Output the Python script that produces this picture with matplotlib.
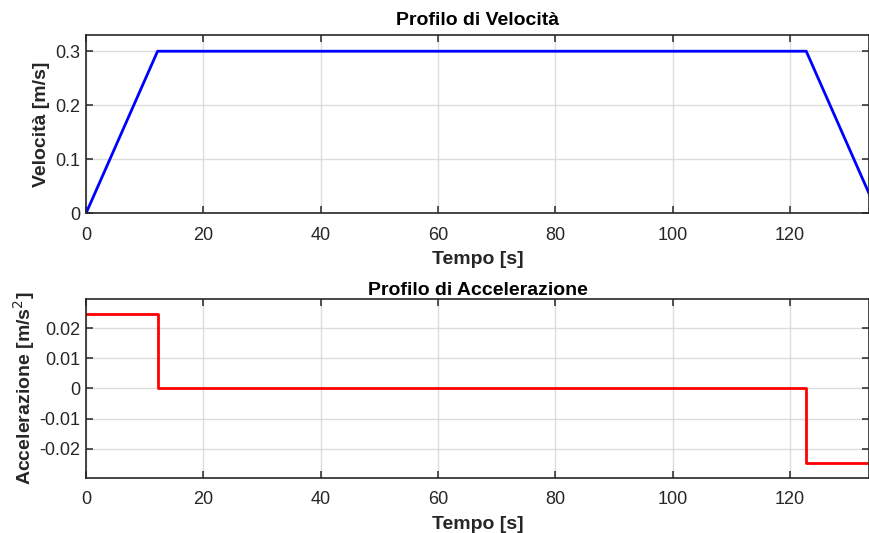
import numpy as np
import matplotlib.pyplot as plt

# profilo trapezoidale
t_vel = [0, 12.2, 122.8, 135.0]
vel = [0, 0.3, 0.3, 0]
t_acc = [0, 12.2, 12.2, 122.8, 122.8, 135.0]
acc = [0.0246, 0.0246, 0, 0, -0.0246, -0.0246]

x_ticks = [0, 20, 40, 60, 80, 100, 120]
vel_ticks = [0, 0.1, 0.2, 0.3]
vel_labels = ['0', '0.1', '0.2', '0.3']
acc_ticks = [-0.02, -0.01, 0, 0.01, 0.02]
acc_labels = ['-0.02', '-0.01', '0', '0.01', '0.02']

plt.rcParams['font.family'] = ['Liberation Sans', 'DejaVu Sans']
dark = '#262626'

fig = plt.figure(figsize=(8.69, 5.33), dpi=100)
ax1 = fig.add_axes([0.099, 0.5998, 0.901, 0.3345])
ax2 = fig.add_axes([0.099, 0.1038, 0.901, 0.3347])


def style(ax):
    ax.grid(True, color='#dcdcdc', linewidth=1.0)
    ax.set_axisbelow(True)
    ax.tick_params(direction='in', length=5, width=1.1, colors=dark,
                   labelsize=13, top=True, right=True)
    ax.tick_params(axis='x', pad=9.5)
    ax.tick_params(axis='y', pad=4)
    for s in ax.spines.values():
        s.set_color(dark)
        s.set_linewidth(1.2)
    ax.set_xticks(x_ticks)
    ax.set_xlim(0, 133.5)


ax1.plot(t_vel, vel, color=(0, 0, 1), linewidth=2.0)
style(ax1)
ax1.set_ylim(0, 0.33)
ax1.set_yticks(vel_ticks)
ax1.set_yticklabels(vel_labels)
ax1.set_title('Profilo di Velocità', fontsize=14, fontweight='bold', color='black', pad=7)
ax1.set_xlabel('Tempo [s]', fontsize=14, fontweight='bold', color=dark, labelpad=5.5)
ax1.set_ylabel('Velocità [m/s]', fontsize=14, fontweight='bold', color=dark, labelpad=4)

ax2.plot(t_acc, acc, color=(1, 0, 0), linewidth=2.0)
style(ax2)
ax2.set_ylim(-0.0295, 0.0295)
ax2.set_yticks(acc_ticks)
ax2.set_yticklabels(acc_labels)
ax2.set_title('Profilo di Accelerazione', fontsize=14, fontweight='bold', color='black', pad=3)
ax2.set_xlabel('Tempo [s]', fontsize=14, fontweight='bold', color=dark, labelpad=5.5)
ax2.set_ylabel('Accelerazione [m/s$^2$]', fontsize=14, fontweight='bold', color=dark, labelpad=2)

fig.savefig('out.png', dpi=100)
